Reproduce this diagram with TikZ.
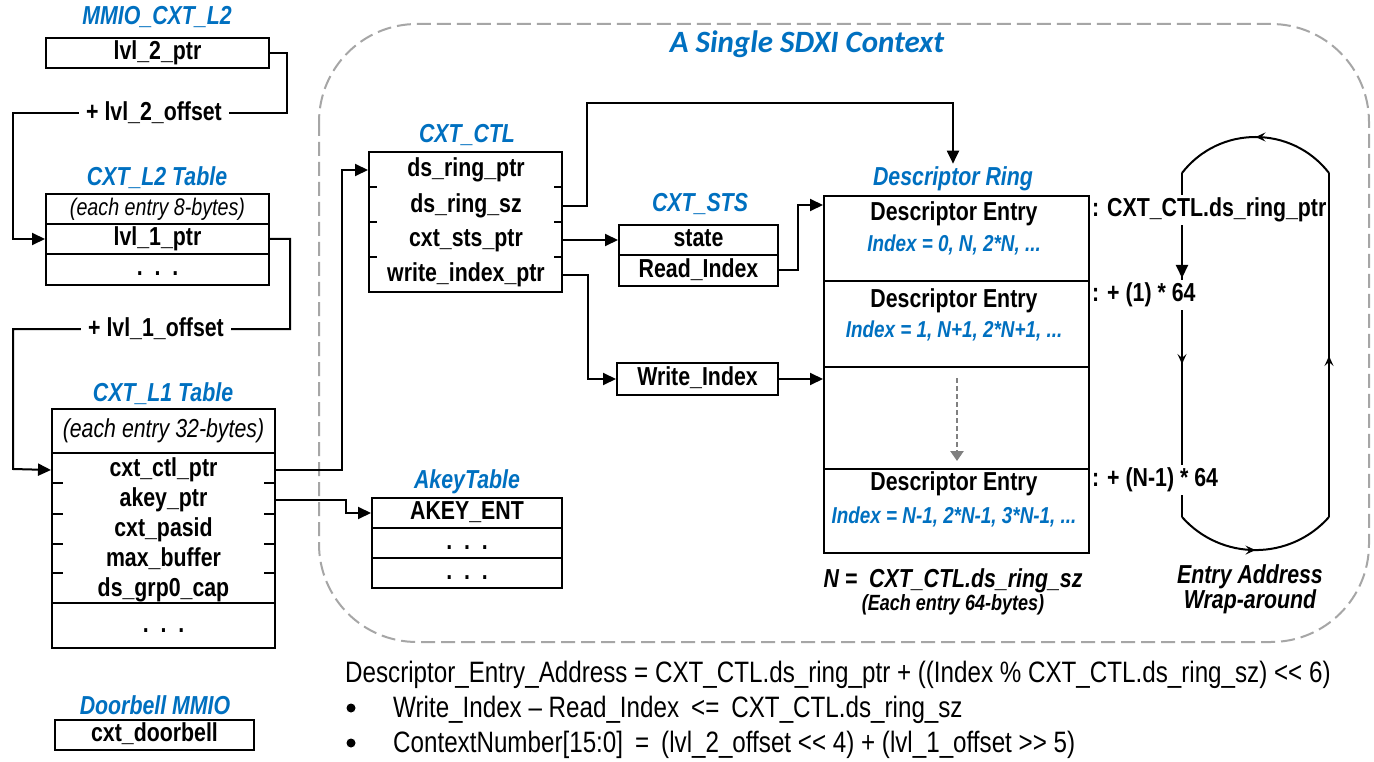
\documentclass[tikz,border=0pt]{standalone}
\usepackage{fontspec}
\setmainfont{Liberation Sans}[FakeStretch=0.82, Ligatures=TeXOff]
\newfontfamily\headfont{Carlito}
\usetikzlibrary{arrows.meta,decorations.markings}
\definecolor{sdxiblue}{HTML}{0070C0}
\definecolor{framegray}{HTML}{A6A6A6}
\definecolor{dotgray}{HTML}{808080}
\newcommand{\fsz}[1]{\fontsize{#1}{#1}\selectfont}

\begin{document}
\begin{tikzpicture}[x=1pt,y=-1pt,
  cell/.style={draw, line width=2pt, inner sep=0pt, text height=18pt, text depth=5pt,
    font=\bfseries\fsz{26}},
  ttl/.style={font=\bfseries\itshape\fsz{26}, text=sdxiblue, inner sep=0pt},
  fld/.style={font=\bfseries\fsz{26}, inner sep=0pt, text height=18pt, text depth=5pt},
  wire/.style={line width=2pt},
  conn/.style={line width=2pt, -{Triangle[length=13pt,width=12pt]}},
  offlbl/.style={font=\bfseries\fsz{26}, fill=white, inner xsep=7pt, inner ysep=2pt},
  addr/.style={font=\bfseries\fsz{26}, fill=white, inner xsep=1pt, inner ysep=3pt, anchor=west},
  idx/.style={font=\bfseries\itshape\fsz{23}, text=sdxiblue, inner sep=0pt},
  note/.style={font=\bfseries\itshape\fsz{26}, inner sep=0pt},
  plain/.style={font=\fsz{29.5}, inner sep=0pt},
  bullet/.style={circle, fill, inner sep=0pt, minimum size=9pt},
  midarrow/.style={postaction={decorate}, decoration={markings,
    mark=at position 0.5 with {\arrow{Stealth[length=10pt,width=9pt,inset=4pt]}}}},
  smalltip/.style={line width=2pt, -{Stealth[length=10pt,width=9pt,inset=4pt]}},
]
\useasboundingbox (0,0) rectangle (1374,762);
\fill[white] (0,0) rectangle (1374,762);

% ---------- context frame ----------
\draw[framegray, line width=2pt, dash pattern=on 14pt off 6pt, rounded corners=98pt]
  (319,24) rectangle (1369,642);
\node[font=\headfont\bfseries\itshape\fsz{31}, text=sdxiblue, inner sep=0pt] (ctxttl) at (807,44) {A Single SDXI Context};

% ---------- MMIO_CXT_L2 ----------
\node[ttl] (mmiottl) at (157,17) {MMIO\_CXT\_L2};
\node[cell, minimum width=223pt, minimum height=30pt] (l2ptr) at (157.5,53) {lvl\_2\_ptr};

% ---------- CXT_L2 table ----------
\node[ttl] (l2ttl) at (157,178) {CXT\_L2 Table};
\node[cell, minimum width=223pt, minimum height=30pt, font=\itshape\fsz{24}] (l2hdr) at (157.5,209) {(each entry 8-bytes)};
\node[cell, minimum width=223pt, minimum height=30pt] (l2ent) at (157.5,239) {lvl\_1\_ptr};
\node[cell, minimum width=223pt, minimum height=31pt] (l2more) at (157.5,269.5) {.\ \ .\ \ .};

\draw[conn] (l2ptr.east) -- (287,53) -- (287,113) -- (13,113) -- (13,239) -- (l2ent.west);
\node[offlbl] (off2) at (154,113) {+ lvl\_2\_offset};

% ---------- CXT_L1 table ----------
\node[ttl] (l1ttl) at (163,394) {CXT\_L1 Table};
\node[cell, minimum width=223pt, minimum height=44pt, font=\itshape\fsz{26}] (l1hdr) at (163.5,431) {(each entry 32-bytes)};
\node[cell, minimum width=223pt, minimum height=150pt] (l1fld) at (163.5,528) {};
\node[cell, minimum width=223pt, minimum height=45pt] (l1more) at (163.5,625.5) {.\ \ .\ \ .};
\node[fld] (f1) at (163.5,470) {cxt\_ctl\_ptr};
\node[fld] (f2) at (163.5,500) {akey\_ptr};
\node[fld] (f3) at (163.5,530) {cxt\_pasid};
\node[fld] (f4) at (163.5,560) {max\_buffer};
\node[fld] (f5) at (163.5,590) {ds\_grp0\_cap};
\foreach \y in {483,514,544,573} {
  \draw[wire] (52,\y) -- (63,\y);
  \draw[wire] (264,\y) -- (275,\y);
}

\draw[conn] (l2ent.east) -- (290,239) -- (290,329) -- (13,329) -- (13,469) -- (l1fld.west |- f1);
\node[offlbl] (off1) at (156,329) {+ lvl\_1\_offset};

% ---------- Doorbell ----------
\node[ttl] (dbttl) at (155,705) {Doorbell MMIO};
\node[cell, minimum width=199pt, minimum height=30pt] (doorbell) at (154.5,735) {cxt\_doorbell};

% ---------- CXT_CTL ----------
\node[ttl] (ctlttl) at (467,135) {CXT\_CTL};
\node[cell, minimum width=193pt, minimum height=140pt] (ctl) at (465.5,222) {};
\node[fld] (c1) at (466,170) {ds\_ring\_ptr};
\node[fld] (c2) at (466,206) {ds\_ring\_sz};
\node[fld] (c3) at (466,240) {cxt\_sts\_ptr};
\node[fld] (c4) at (466,275) {write\_index\_ptr};
\foreach \y in {187,222,257} {
  \draw[wire] (369,\y) -- (377,\y);
  \draw[wire] (554,\y) -- (562,\y);
}
\draw[conn] (l1fld.east |- f1) -- (342,470) -- (342,170) -- (ctl.west |- c1);

% ---------- AkeyTable ----------
\node[ttl] (akttl) at (467,482) {AkeyTable};
\node[cell, minimum width=190pt, minimum height=30pt] (ak1) at (467,513) {AKEY\_ENT};
\node[cell, minimum width=190pt, minimum height=30pt] (ak2) at (467,543) {.\ \ .\ \ .};
\node[cell, minimum width=190pt, minimum height=30pt] (ak3) at (467,573) {.\ \ .\ \ .};
\draw[conn] (l1fld.east |- f2) -- (346,500) -- (346,513) -- (ak1.west);

% ---------- CXT_STS ----------
\node[ttl] (ststtl) at (700,204) {CXT\_STS};
\node[cell, minimum width=159pt, minimum height=30pt] (state) at (698.5,240) {state};
\node[cell, minimum width=159pt, minimum height=31pt] (readidx) at (698.5,270.5) {Read\_Index};
\node[cell, minimum width=161pt, minimum height=32pt] (writeidx) at (697.5,379) {Write\_Index};

% ---------- Descriptor ring ----------
\node[ttl] (ringttl) at (953,179) {Descriptor Ring};
\node[cell, minimum width=265pt, minimum height=85pt] (r1) at (956.5,238.5) {};
\node[cell, minimum width=265pt, minimum height=86pt] (r2) at (956.5,324) {};
\node[cell, minimum width=265pt, minimum height=102pt] (rgap) at (956.5,418) {};
\node[cell, minimum width=265pt, minimum height=84pt] (rN) at (956.5,511) {};
\node[fld] (e1) at (954,214) {Descriptor Entry};
\node[idx] (i1) at (954,245) {Index = 0, N, 2*N, ...};
\node[fld] (e2) at (954,301) {Descriptor Entry};
\node[idx] (i2) at (954,331) {Index = 1, N+1, 2*N+1, ...};
\node[fld] (eN) at (954,484) {Descriptor Entry};
\node[idx] (iN) at (954,517) {Index = N-1, 2*N-1, 3*N-1, ...};
\coordinate (dotA) at (957,378);
\coordinate (dotB) at (957,461);
\draw[dotgray, line width=2.5pt, dash pattern=on 5pt off 3pt, -{Triangle[length=10pt,width=13pt]}] (dotA) -- (dotB);
\node[note] (nlbl) at (953,581) {N = \ CXT\_CTL.ds\_ring\_sz};
\node[note, font=\bfseries\itshape\fsz{22}] (nsize) at (953,605) {(Each entry 64-bytes)};

% ---------- pointer connectors ----------
\coordinate (rin) at ([yshift=33.5pt]r1.west);
\draw[conn] (ctl.east |- c2) -- (587,206) -- (587,103) -- (953,103) -- ([yshift=3pt]ringttl.north);
\draw[conn] (ctl.east |- c3) -- (state.west);
\draw[conn] (readidx.east) -- (798,270.5) -- (798,205) -- (rin);
\draw[conn] (ctl.east |- c4) -- (588,275) -- (588,379) -- (writeidx.west);
\draw[conn] (writeidx.east) -- (writeidx.east -| rgap.west);

% ---------- address wrap-around loop ----------
\draw[wire] (1182,173) -- (1182,517);
\draw[wire, midarrow] (1329,173) .. controls (1291.7,125) and (1219.3,125) .. (1182,173);
\draw[wire, midarrow] (1182,517) .. controls (1221.1,561.1) and (1289.9,561.1) .. (1329,517);
\node[addr] (a0) at (1091,210) {: CXT\_CTL.ds\_ring\_ptr};
\node[addr] (a1) at (1091,295) {: + (1) * 64};
\node[addr] (aN) at (1091,480) {: + (N-1) * 64};
\draw[conn] (a0.south -| 1182,0) -- (1182,278);
\draw[smalltip] (1182,340) -- (1182,364);
\draw[wire] (1329,517) -- (1329,173);
\draw[smalltip] (1329,380) -- (1329,356);
\node[note] (wrap1) at (1250,577) {Entry Address};
\node[note] (wrap2) at (1250,602) {Wrap-around};

% ---------- formulas ----------
\node[plain, anchor=base west] (eqaddr) at (345,682)
  {Descriptor\_Entry\_Address = CXT\_CTL.ds\_ring\_ptr + ((Index \% CXT\_CTL.ds\_ring\_sz) << 6)};
\node[bullet] (bul1) at (351,708) {};
\node[plain, anchor=base west] (eqidx) at (393,717)
  {Write\_Index – Read\_Index\hspace{12pt}<=\hspace{12pt}CXT\_CTL.ds\_ring\_sz};
\node[bullet] (bul2) at (351,743) {};
\node[plain, anchor=base west] (eqnum) at (393,752)
  {ContextNumber[15:0]\hspace{12pt}=\hspace{12pt}(lvl\_2\_offset << 4) + (lvl\_1\_offset >> 5)};
\end{tikzpicture}
\end{document}
